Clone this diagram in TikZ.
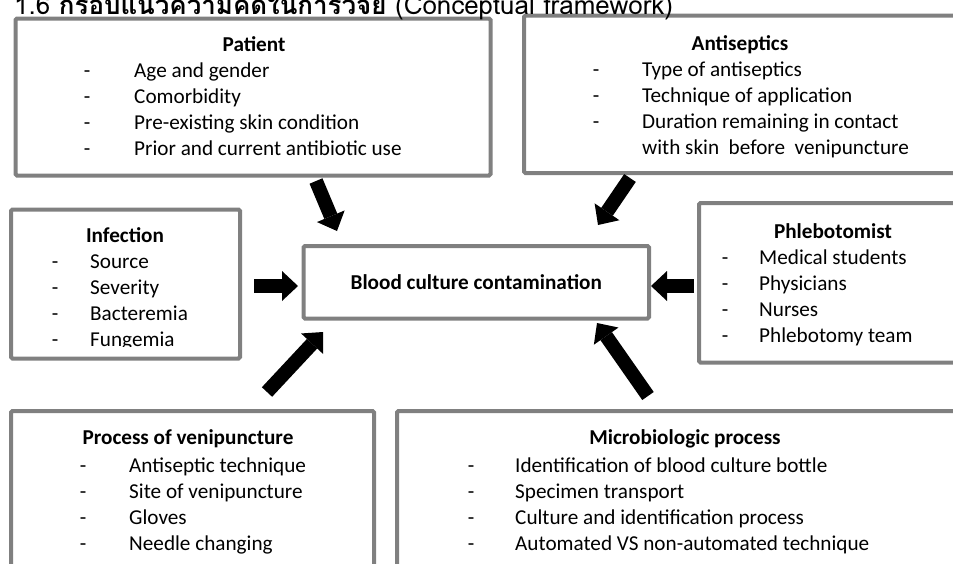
\documentclass[tikz,border=0pt]{standalone}
\usepackage{fontspec}
\setmainfont{Carlito}
\newfontfamily\thaifont[Script=Thai]{Loma}
\usetikzlibrary{arrows.meta}
\definecolor{boxgray}{HTML}{808080}
\newcommand\boxfont{\fontsize{21.2}{26}\selectfont}
\tikzset{
	factorbox/.style={draw=boxgray, line width=4pt, fill=white, inner sep=0pt, rounded corners=1.5pt},
	heading/.style={anchor=base, font=\boxfont\bfseries, inner sep=0pt},
	dashmark/.style={anchor=base, inner sep=0pt},
	itemtext/.style={anchor=base west, inner sep=0pt},
	blockarrow/.style={line width=14pt, -{Triangle[length=16pt, width=30pt, line width=0pt]}},
}
\begin{document}
\begin{tikzpicture}[x=1pt, y=-1pt, font=\boxfont]
	\clip (0,0) rectangle (953,563);
	\fill[white] (0,0) rectangle (953,563);
	
	\node[factorbox, minimum width=475pt, minimum height=157pt] (patient) at (253,97) {};
	\node[factorbox, minimum width=451pt, minimum height=157.5pt] (antisep) at (749.5,94.25) {};
	\node[factorbox, minimum width=229pt, minimum height=149pt] (infect) at (125.5,284) {};
	\node[factorbox, minimum width=345.5pt, minimum height=72.5pt, font=\boxfont\bfseries] (bcc) at (476.25,282.25) {Blood culture contamination};
	\node[factorbox, minimum width=276pt, minimum height=159.5pt] (phlebo) at (837,282.75) {};
	\node[factorbox, minimum width=363pt, minimum height=189pt] (venip) at (192.5,505.5) {};
	\node[factorbox, minimum width=578pt, minimum height=189pt] (micro) at (686,505.5) {};
	
	\node[anchor=base west, inner sep=0pt, font=\fontsize{25.9}{30}\selectfont\thaifont] (title) at (14,14.5) {1.6 \textbf{กรอบแนวความคิดในการวิจัย} (Conceptual framework)};
	
	\node[heading] (patient-head) at (254,51) {Patient};
	\foreach \t [count=\k from 0] in {Age and gender, Comorbidity, Pre-existing skin condition, Prior and current antibiotic use}{
		\node[dashmark] (patient-dash-\k) at (87,{77+26*\k}) {-};
		\node[itemtext] (patient-item-\k) at (134,{77+26*\k}) {\t};
	}
	
	\node[heading] (antisep-head) at (740,50) {Antiseptics};
	\foreach \t [count=\k from 0] in {Type of antiseptics, Technique of application, Duration remaining in contact}{
		\node[dashmark] (antisep-dash-\k) at (596,{76+26*\k}) {-};
		\node[itemtext] (antisep-item-\k) at (642,{76+26*\k}) {\t};
	}
	\node[itemtext] (antisep-item-3) at (642,154) {with skin\ \ before\ \ venipuncture};
	
	\begin{scope}
		\clip (11,209.5) rectangle (240,346.5);
		\node[heading] (infect-head) at (125,242) {Infection};
		\foreach \t [count=\k from 0] in {Source, Severity, Bacteremia, Fungemia}{
			\node[dashmark] (infect-dash-\k) at (55,{268+26*\k}) {-};
			\node[itemtext] (infect-item-\k) at (90,{268+26*\k}) {\t};
		}
	\end{scope}
	
	\node[heading] (phlebo-head) at (833,238) {Phlebotomist};
	\foreach \t [count=\k from 0] in {Medical students, Physicians, Nurses, Phlebotomy team}{
		\node[dashmark] (phlebo-dash-\k) at (725,{264+26*\k}) {-};
		\node[itemtext] (phlebo-item-\k) at (759,{264+26*\k}) {\t};
	}
	
	\node[heading] (venip-head) at (188,444) {Process of venipuncture};
	\foreach \t [count=\k from 0] in {Antiseptic technique, Site of venipuncture, Gloves, Needle changing}{
		\node[dashmark] (venip-dash-\k) at (83,{472+26*\k}) {-};
		\node[itemtext] (venip-item-\k) at (129,{472+26*\k}) {\t};
	}
	
	\node[heading] (micro-head) at (685,444) {Microbiologic process};
	\foreach \t [count=\k from 0] in {Identification of blood culture bottle, Specimen transport, Culture and identification process, Automated VS non-automated technique}{
		\node[dashmark] (micro-dash-\k) at (471,{472+26*\k}) {-};
		\node[itemtext] (micro-item-\k) at (515,{472+26*\k}) {\t};
	}
	
	\coordinate (patient-tail) at (316,181);
	\coordinate (patient-tip) at (337,231);
	\coordinate (antisep-tail) at (630,178);
	\coordinate (antisep-tip) at (598,225);
	\coordinate (infect-tail) at (254,286);
	\coordinate (infect-tip) at (298,286);
	\coordinate (phlebo-tail) at (694,286);
	\coordinate (phlebo-tip) at (651,286);
	\coordinate (venip-tail) at (267,392);
	\coordinate (venip-tip) at (323,332);
	\coordinate (micro-tail) at (648,396);
	\coordinate (micro-tip) at (597,323);
	
	\draw[blockarrow] (patient-tail) -- (patient-tip);
	\draw[blockarrow] (antisep-tail) -- (antisep-tip);
	\draw[blockarrow] (infect-tail) -- (infect-tip);
	\draw[blockarrow] (phlebo-tail) -- (phlebo-tip);
	\draw[blockarrow] (venip-tail) -- (venip-tip);
	\draw[blockarrow] (micro-tail) -- (micro-tip);
\end{tikzpicture}
\end{document}
